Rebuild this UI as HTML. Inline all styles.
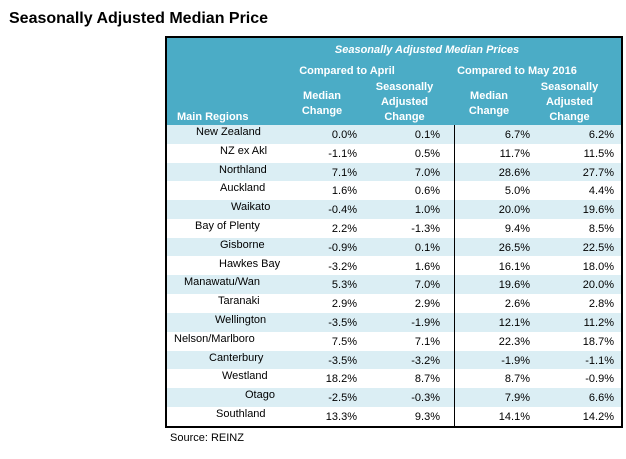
<!DOCTYPE html>
<html><head><meta charset="utf-8"><style>
body{margin:0;width:626px;height:459px;background:#fff;font-family:"Liberation Sans",sans-serif;position:relative;overflow:hidden}
.a{position:absolute;white-space:nowrap}
.h{color:#fff;font-weight:bold;font-size:11px;text-align:center;line-height:15px}
.row{position:absolute;left:0;width:454px;height:18.7px}
.c{position:absolute;font-size:11px;color:#000}
</style></head><body>
<div class="a" style="left:9px;top:10px;font-size:16px;font-weight:bold;color:#000">Seasonally Adjusted Median Price</div>
<div id="tbl" style="position:absolute;left:165px;top:36px;width:454px;height:388px;border:2px solid #000;box-sizing:content-box">
  <div style="position:absolute;left:0;top:0;width:454px;height:87px;background:#4bacc6"></div>
  <div class="a h" style="left:60px;width:400px;top:5px;font-style:italic">Seasonally Adjusted Median Prices</div>
  <div class="a h" style="left:110px;width:140px;top:26px">Compared to April</div>
  <div class="a h" style="left:280px;width:140px;top:26px">Compared to May 2016</div>
  <div class="a h" style="left:125px;width:60px;top:51px">Median<br>Change</div>
  <div class="a h" style="left:200px;width:75px;top:42px">Seasonally<br>Adjusted<br>Change</div>
  <div class="a h" style="left:292px;width:60px;top:51px">Median<br>Change</div>
  <div class="a h" style="left:365px;width:75px;top:42px">Seasonally<br>Adjusted<br>Change</div>
  <div class="a h" style="left:10px;top:72px;text-align:left">Main Regions</div>
  <div id="rows"></div>
  <div style="position:absolute;left:287px;top:87px;width:1px;height:301px;background:#000"></div>
</div>
<div class="a" style="left:170px;top:432px;font-size:11px">Source: REINZ</div>
<script>
const regions=["New Zealand","NZ ex Akl","Northland","Auckland","Waikato","Bay of Plenty","Gisborne","Hawkes Bay","Manawatu/Wan","Taranaki","Wellington","Nelson/Marlboro","Canterbury","Westland","Otago","Southland"];
const labelLeft=[29,53,52,53,64,28,53,52,17,51,48,7,42,55,78,49];
const medApr=["0.0%","-1.1%","7.1%","1.6%","-0.4%","2.2%","-0.9%","-3.2%","5.3%","2.9%","-3.5%","7.5%","-3.5%","18.2%","-2.5%","13.3%"];
const saApr=["0.1%","0.5%","7.0%","0.6%","1.0%","-1.3%","0.1%","1.6%","7.0%","2.9%","-1.9%","7.1%","-3.2%","8.7%","-0.3%","9.3%"];
const medMay=["6.7%","11.7%","28.6%","5.0%","20.0%","9.4%","26.5%","16.1%","19.6%","2.6%","12.1%","22.3%","-1.9%","8.7%","7.9%","14.1%"];
const saMay=["6.2%","11.5%","27.7%","4.4%","19.6%","8.5%","22.5%","18.0%","20.0%","2.8%","11.2%","18.7%","-1.1%","-0.9%","6.6%","14.2%"];
const rightEdges=[190,273,363,447];
const host=document.getElementById('rows');
regions.forEach((r,i)=>{
  const row=document.createElement('div');
  row.className='row';
  
  
  row.style.top=(87+i*18.8)+'px';
  row.style.background=i%2===0?'#dbeef4':'#fff';
  const l=document.createElement('div');
  l.className='c';
  
  
  l.style.left=labelLeft[i]+'px';l.style.top='1px';
  l.textContent=r;row.appendChild(l);
  [medApr,saApr,medMay,saMay].forEach((arr,j)=>{
    const v=document.createElement('div');
    v.className='c';
    
    
    v.style.right=(454-rightEdges[j])+'px';v.style.top='4px';
    v.textContent=arr[i];row.appendChild(v);
  });
  host.appendChild(row);
});
</script>
</body></html>
